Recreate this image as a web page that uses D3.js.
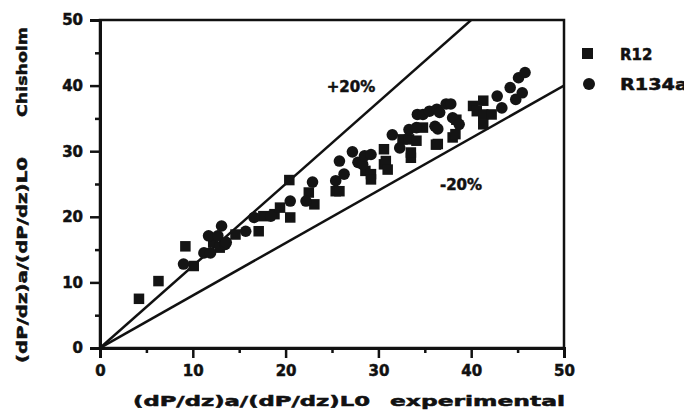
<!DOCTYPE html>
<html>
<head>
<meta charset="utf-8">
<script src="https://cdnjs.cloudflare.com/ajax/libs/d3/7.8.5/d3.min.js"></script>
<style>
  body { margin: 0; background: #fff; }
  svg text { font-family: "DejaVu Sans", sans-serif; font-weight: bold; fill: #111; stroke: #111; stroke-width: 0.5px; }
</style>
</head>
<body>
<div id="chart"></div>
<script>
// R12 points  [experimental, Chisholm]
var r12 = [
  [4.2, 7.5], [6.3, 10.2], [9.2, 15.5], [10.1, 12.5], [12.2, 16.1], [12.9, 15.3],
  [14.6, 17.3], [17.1, 17.8], [17.6, 20.1], [18.8, 20.4], [19.4, 21.4], [20.5, 19.9],
  [20.4, 25.6], [22.5, 23.7], [23.1, 21.9], [25.4, 23.9], [25.8, 23.9], [28.6, 27.0],
  [29.2, 26.5], [29.2, 25.7], [30.6, 28.0], [30.6, 30.3], [30.8, 28.5], [31.0, 27.2],
  [32.6, 31.8], [33.3, 31.8], [33.5, 29.0], [33.5, 29.8], [34.1, 31.6], [34.8, 33.6],
  [36.2, 31.0], [36.4, 31.1], [38.0, 32.1], [38.3, 32.6], [38.4, 34.8], [40.2, 36.9],
  [40.6, 36.1], [41.3, 34.1], [41.3, 35.6], [41.3, 37.7], [42.2, 35.6]
]
// R134a points
var r134a = [
  [9.0, 12.8], [11.2, 14.5], [11.9, 14.5], [11.7, 17.1], [12.7, 17.1], [13.1, 18.6],
  [13.5, 15.8], [13.6, 16.1], [15.7, 17.8], [16.6, 19.9], [18.4, 20.1], [20.5, 22.4],
  [22.2, 22.4], [22.9, 25.3], [25.4, 25.5], [26.3, 26.5], [25.8, 28.5], [27.2, 29.9],
  [27.8, 28.3], [28.3, 28.0], [28.5, 29.3], [29.2, 29.5], [31.5, 32.5], [32.3, 30.5],
  [33.3, 33.3], [34.1, 33.6], [34.2, 35.6], [34.8, 35.6], [35.5, 36.1], [36.3, 36.4],
  [36.6, 35.9], [36.1, 33.8], [36.4, 33.4], [37.3, 37.2], [37.8, 37.2], [38.0, 35.1],
  [38.7, 34.1], [42.8, 38.4], [43.3, 36.6], [44.2, 39.7], [44.8, 37.9], [45.1, 41.2],
  [45.5, 38.9], [45.8, 42.0]
]
var majorTicks = [0, 10, 20, 30, 40, 50]
var minorTicks = [5, 15, 25, 35, 45]
var bandFactors = [1.25, 0.8]   // +20% and -20% lines
var bandLabels = ["+20%", "-20%"]
var seriesNames = ["R12", "R134a"]

var W = 684, H = 411
var svg = d3.select("#chart").append("svg").attr("width", W).attr("height", H)

var x = d3.scaleLinear().domain([0, 50]).range([100, 564])
var y = d3.scaleLinear().domain([0, 50]).range([348, 20])

//clip for the lines
svg.append("clipPath").attr("id", "plotclip")
  .append("rect")
  .attr("x", x(0)).attr("y", y(50))
  .attr("width", x(50) - x(0)).attr("height", y(0) - y(50))

//frame
svg.append("rect")
  .attr("x", x(0)).attr("y", y(50))
  .attr("width", x(50) - x(0)).attr("height", y(0) - y(50))
  .attr("fill", "none").attr("stroke", "#111").attr("stroke-width", 2.5)

//axes: major with labels, minor short
var drawAxis = function(axis, tr){
  var g = svg.append("g").attr("transform", tr).call(axis)
  g.select(".domain").attr("stroke", "#111").attr("stroke-width", 3)
  g.selectAll(".tick line").attr("stroke", "#111").attr("stroke-width", 2.5)
  g.selectAll("text").attr("font-size", 15).attr("fill", "#111")
  return g
}
drawAxis(d3.axisBottom(x).tickValues(majorTicks).tickSize(10).tickPadding(7).tickFormat(d3.format("d")), "translate(0," + y(0) + ")")
drawAxis(d3.axisBottom(x).tickValues(minorTicks).tickSize(5).tickFormat(""), "translate(0," + y(0) + ")")
drawAxis(d3.axisLeft(y).tickValues(majorTicks).tickSize(10).tickPadding(7).tickFormat(d3.format("d")), "translate(" + x(0) + ",0)")
drawAxis(d3.axisLeft(y).tickValues(minorTicks).tickSize(5).tickFormat(""), "translate(" + x(0) + ",0)")

//+-20% lines
var lines = svg.append("g").attr("clip-path", "url(#plotclip)")
bandFactors.forEach(function(f){
  lines.append("line")
    .attr("x1", x(0)).attr("y1", y(0))
    .attr("x2", x(50)).attr("y2", y(50 * f))
    .attr("stroke", "#111").attr("stroke-width", 2.5)
})
svg.append("text").attr("x", 351).attr("y", 92).attr("text-anchor", "middle")
  .attr("font-size", 15).text(bandLabels[0])
svg.append("text").attr("x", 461).attr("y", 190).attr("text-anchor", "middle")
  .attr("font-size", 15).text(bandLabels[1])

//points
var s = 10.5
svg.append("g").selectAll("rect").data(r12).enter().append("rect")
  .attr("x", function(d){ return x(d[0]) - s / 2 })
  .attr("y", function(d){ return y(d[1]) - s / 2 })
  .attr("width", s).attr("height", s)
  .attr("fill", "#141414")
svg.append("g").selectAll("circle").data(r134a).enter().append("circle")
  .attr("cx", function(d){ return x(d[0]) })
  .attr("cy", function(d){ return y(d[1]) })
  .attr("r", 5.8)
  .attr("fill", "#141414")

//legend
svg.append("rect").attr("x", 582).attr("y", 48).attr("width", 11).attr("height", 11).attr("fill", "#141414")
svg.append("circle").attr("cx", 589).attr("cy", 84).attr("r", 6).attr("fill", "#141414")
svg.append("text").attr("x", 620).attr("y", 60).attr("font-size", 15).text(seriesNames[0])
svg.append("text").attr("x", 620).attr("y", 90).attr("font-size", 15)
  .attr("textLength", 68).attr("lengthAdjust", "spacingAndGlyphs").text(seriesNames[1])

//axis titles
svg.append("text").attr("x", 133).attr("y", 406).attr("font-size", 14)
  .attr("textLength", 237).attr("lengthAdjust", "spacingAndGlyphs")
  .text("(dP/dz)a/(dP/dz)L0")
svg.append("text").attr("x", 390).attr("y", 406).attr("font-size", 14)
  .attr("textLength", 175).attr("lengthAdjust", "spacingAndGlyphs")
  .text("experimental")
var yt = svg.append("g").attr("transform", "translate(27,0) rotate(-90)")
yt.append("text").attr("x", -363).attr("y", 0).attr("font-size", 14)
  .attr("textLength", 206).attr("lengthAdjust", "spacingAndGlyphs")
  .text("(dP/dz)a/(dP/dz)L0")
yt.append("text").attr("x", -117).attr("y", 0).attr("font-size", 14)
  .attr("textLength", 90).attr("lengthAdjust", "spacingAndGlyphs")
  .text("Chisholm")
</script>
</body>
</html>
